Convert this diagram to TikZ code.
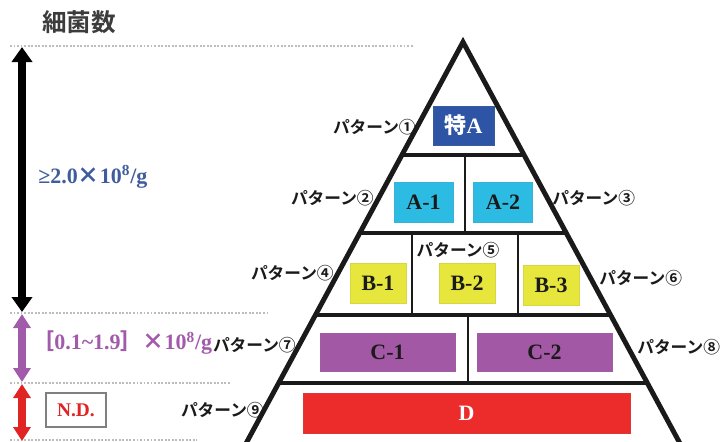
\documentclass[tikz,border=0pt]{standalone}
\usepackage{fontspec}
\setmainfont{Liberation Serif}
\newfontfamily\jp{Noto Sans CJK JP Bold}
\usetikzlibrary{arrows.meta,calc}
\definecolor{ink}{HTML}{1A1A1A}
\definecolor{tokuc}{HTML}{2E54A6}
\definecolor{acol}{HTML}{2CBCE3}
\definecolor{bcol}{HTML}{E6E63C}
\definecolor{ccol}{HTML}{A358A5}
\definecolor{dcol}{HTML}{EC2B2B}
\definecolor{hic}{HTML}{3F5C9C}
\definecolor{rngc}{HTML}{A25BAB}
\definecolor{ndc}{HTML}{E02424}
\definecolor{mute}{HTML}{BDBDBD}

\begin{document}
\begin{tikzpicture}[
  x=0.02cm, y=-0.02cm, text=ink,
  pat/.style={inner sep=0pt, font=\jp\fontsize{9.5}{10}\selectfont},
  cell/.style={draw=#1!85!gray, fill=#1, line width=0.4pt, inner sep=0pt,
    font=\bfseries\fontsize{12.5}{13}\selectfont},
  smallc/.style={minimum width=1.18cm, minimum height=0.8cm},
  wall/.style={draw=ink, line width=2.4pt},
  sep/.style={draw=ink, line width=1.2pt},
  guide/.style={draw=mute, line width=1.1pt, dash pattern=on 1.1pt off 0.9pt},
  span/.style={draw=#1, line width=4.4pt,
    {Triangle[width=0.34cm, length=0.28cm]}-{Triangle[width=0.34cm, length=0.28cm]}},
  lvl/.style={anchor=west, inner sep=0pt, font=\bfseries\fontsize{12.5}{13}\selectfont}
]
\useasboundingbox (0,0) rectangle (722,441);

% ---- pyramid
\coordinate (apex) at (463,42);
\coordinate (bl) at (243,449);
\coordinate (br) at (683,449);
\foreach \t/\n in {0.2776/l1, 0.4693/l2, 0.6708/l3, 0.8378/l4}
  \draw[wall] ($(apex)!\t!(bl)$) coordinate (\n w) -- ($(apex)!\t!(br)$) coordinate (\n e);
\draw[sep] (465,155) -- (465,233);
\draw[sep] (412,233) -- (412,315);
\draw[sep] (518,233) -- (518,315);
\draw[sep] (468,315) -- (468,383);
\begin{scope}
  \clip (0,0) rectangle (722,441);
  \draw[wall, line width=2.8pt, line join=miter] (bl) -- (apex) -- (br);
\end{scope}

% ---- cells
\node[cell=tokuc, text=white, minimum width=1.22cm, minimum height=0.78cm] (toku) at (463.5,125.5) {{\jp 特}A};
\node[cell=acol, smallc] (a1) at (423.5,202) {A-1};
\node[cell=acol, smallc] (a2) at (503,202) {A-2};
\node[cell=bcol, smallc, minimum width=1.12cm] (b1) at (378,283) {B-1};
\node[cell=bcol, smallc, minimum width=1.12cm] (b2) at (467,283) {B-2};
\node[cell=bcol, smallc, minimum width=1.12cm] (b3) at (551,285.5) {B-3};
\node[cell=ccol, minimum width=2.7cm, minimum height=0.76cm] (c1) at (387.5,352) {C-1};
\node[cell=ccol, minimum width=2.7cm, minimum height=0.76cm] (c2) at (544.5,352) {C-2};
\node[cell=dcol, text=white, minimum width=6.54cm, minimum height=0.8cm] (d) at (466.5,413) {D};

% ---- pattern labels
\node[pat, anchor=east] (p1) at (416,127) {パターン①};
\node[pat, anchor=east] (p2) at (374,198) {パターン②};
\node[pat, anchor=west] (p3) at (552,198) {パターン③};
\node[pat, anchor=east] (p4) at (334,273) {パターン④};
\node[pat] (p5) at (458,250) {パターン⑤};
\node[pat, anchor=west] (p6) at (599,278) {パターン⑥};
\node[pat, anchor=east] (p7) at (296,345) {パターン⑦};
\node[pat, anchor=west] (p8) at (637,347) {パターン⑧};
\node[pat, anchor=east] (p9) at (264,410) {パターン⑨};

% ---- count scale
\node[font=\jp\fontsize{14}{15}\selectfont, text=ink!85] (title) at (79,22) {細菌数};
\coordinate (g0w) at (10,46);   \coordinate (g0e) at (413,46);
\coordinate (g1w) at (10,313);  \coordinate (g1e) at (270,313);
\coordinate (g2w) at (10,383);  \coordinate (g2e) at (230,383);
\coordinate (g3w) at (10,440);  \coordinate (g3e) at (197,440);
\foreach \g in {g0,g1,g2,g3} \draw[guide] (\g w) -- (\g e);
\draw[span=black, line width=4.6pt, {Triangle[width=0.4cm, length=0.3cm]}-{Triangle[width=0.4cm, length=0.3cm]}]
  (22,47) coordinate (s0) -- (22,312) coordinate (s1);
\draw[span=rngc] (22,314) -- (22,382);
\draw[span=ndc] (22,384) -- (22,441);
\node[lvl, text=hic] (hi) at (38,177) {≥2.0{\jp ×}10\textsuperscript{8}/g};
\node[lvl, text=rngc] (rng) at (32,343) {{\jp ［}0.1\char`~1.9{\jp ］}{\jp ×}10\textsuperscript{8}/g};
\node[draw=gray, line width=0.8pt, fill=white, text=ndc, inner sep=0pt, minimum width=1.2cm, minimum height=0.68cm,
  font=\bfseries\fontsize{11}{12}\selectfont] (nd) at (76,410) {N.D.};
\end{tikzpicture}
\end{document}
